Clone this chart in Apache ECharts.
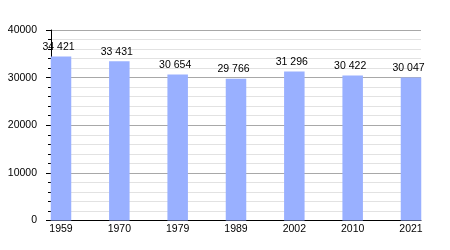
<!DOCTYPE html>
<html><head><meta charset="utf-8">
<script src="https://cdn.jsdelivr.net/npm/echarts@6/dist/echarts.min.js"></script>
<style>html,body{margin:0;padding:0;background:#fff}#c{width:450px;height:250px}</style>
</head><body><div id="c"></div>
<script>
const years = ['1959','1970','1979','1989','2002','2010','2021'];
const population = [34421, 33431, 30654, 29766, 31296, 30422, 30047];
const yTicks = [0, 10000, 20000, 30000, 40000];

const FONT = 'Liberation Sans, Arial, sans-serif';
function fmt(v){ return String(v).replace(/\B(?=(\d{3})+(?!\d))/g, ' '); }

const chart = echarts.init(document.getElementById('c'), null, {renderer:'canvas'});
chart.setOption({
  animation: false,
  backgroundColor: '#ffffff',
  grid: [
    {left: 51, right: 29, top: 30, bottom: 29.5},
    {left: 61, right: 39, top: 30, bottom: 29.5}
  ],
  xAxis: [
    {gridIndex: 0, type: 'category', data: years, boundaryGap: false,
     axisLine: {show: true, lineStyle: {color: '#000', width: 1}},
     axisTick: {show: false}, axisLabel: {show: false}, splitLine: {show: false}},
    {gridIndex: 1, type: 'category', data: years, boundaryGap: false,
     axisLine: {show: false}, axisTick: {show: false},
     axisLabel: {show: true, margin: 3, color: '#000', fontSize: 10.5, fontFamily: FONT}}
  ],
  yAxis: [
    {gridIndex: 0, type: 'value', min: yTicks[0], max: yTicks[yTicks.length-1], interval: 10000,
     axisLine: {show: true, lineStyle: {color: '#000', width: 1}},
     axisTick: {show: true, length: 5, lineStyle: {color: '#000'}},
     minorTick: {show: true, splitNumber: 5, length: 3, lineStyle: {color: '#000'}},
     splitLine: {show: true, lineStyle: {color: '#a8a8a8', width: 1}},
     minorSplitLine: {show: true, lineStyle: {color: '#e2e2e2', width: 1}},
     axisLabel: {margin: 14, color: '#000', fontSize: 10.5, fontFamily: FONT,
       formatter: v => String(v)}},
    {gridIndex: 1, type: 'value', min: yTicks[0], max: yTicks[yTicks.length-1], show: false,
     splitLine: {show: false}}
  ],
  series: [{
    type: 'bar', xAxisIndex: 1, yAxisIndex: 1,
    data: population, barWidth: 20.5,
    itemStyle: {color: '#99b0ff'},
    label: {show: true, position: 'top', distance: 4, offset: [-2.5, 0],
      color: '#000', fontSize: 10.5, fontFamily: FONT,
      formatter: p => fmt(p.value)}
  }]
});
</script></body></html>
